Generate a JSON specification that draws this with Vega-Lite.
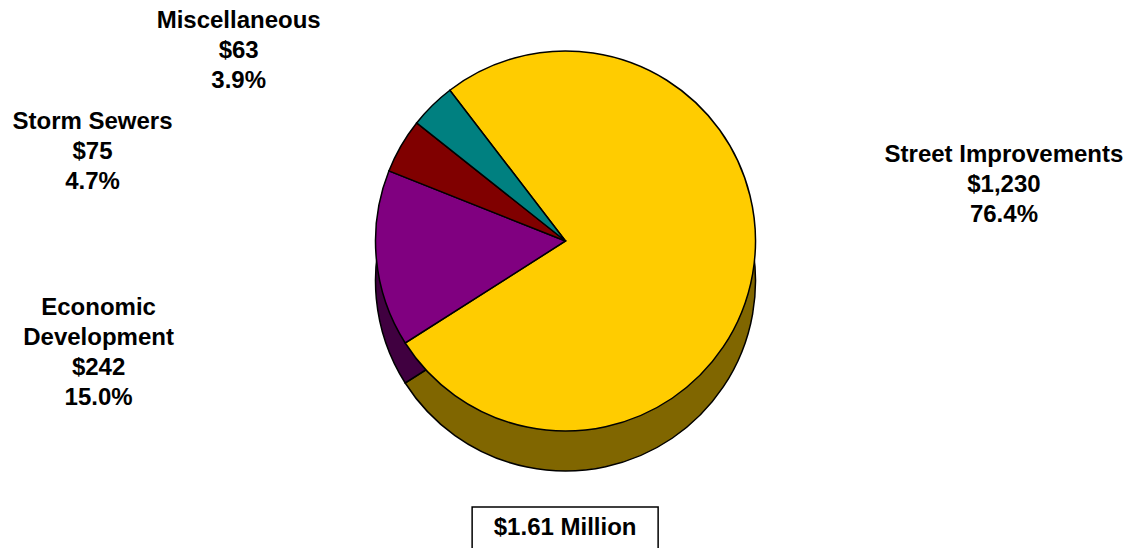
{
  "$schema": "https://vega.github.io/schema/vega-lite/v6.json",
  "padding": {"left": 5, "top": 5, "right": 5, "bottom": 0},
  "config": {"view": {"stroke": null}, "font": "Liberation Sans"},
  "datasets": {
    "slices": [
      {"category": "Street Improvements", "value": 1230, "order": 1, "label": ["Street Improvements", "$1,230", "76.4%"]},
      {"category": "Economic Development", "value": 242, "order": 2, "label": ["Economic", "Development", "$242", "15.0%"]},
      {"category": "Storm Sewers", "value": 75, "order": 3, "label": ["Storm Sewers", "$75", "4.7%"]},
      {"category": "Miscellaneous", "value": 63, "order": 4, "label": ["Miscellaneous", "$63", "3.9%"]}
    ],
    "total": [{"label": "$1.61 Million"}]
  },
  "spacing": 29,
  "center": true,
  "vconcat": [
    {
      "width": 1121,
      "height": 472,
      "data": {"name": "slices"},
      "encoding": {
        "theta": {"field": "value", "type": "quantitative", "stack": true, "scale": {"range": [-0.6545, 5.6287]}},
        "order": {"field": "order", "type": "quantitative"}
      },
      "layer": [
        {
          "mark": {"type": "arc", "radius": 190, "yOffset": 40, "stroke": "black", "strokeWidth": 1.5},
          "encoding": {
            "color": {"field": "category", "type": "nominal", "legend": null,
              "scale": {"domain": ["Street Improvements", "Economic Development", "Storm Sewers", "Miscellaneous"],
                        "range": ["#806600", "#400040", "#400000", "#004040"]}}
          }
        },
        {
          "mark": {"type": "arc", "radius": 190, "stroke": "black", "strokeWidth": 1.5},
          "encoding": {
            "fill": {"field": "category", "type": "nominal", "legend": null,
              "scale": {"domain": ["Street Improvements", "Economic Development", "Storm Sewers", "Miscellaneous"],
                        "range": ["#FFCC00", "#800080", "#800000", "#008080"]}}
          }
        },
        {
          "mark": {"type": "text", "clip": true, "radius": 430, "dx": 15, "dy": -161, "fontSize": 24, "fontWeight": "bold", "lineHeight": 30, "align": "center", "baseline": "middle", "color": "black"},
          "encoding": {"text": {"condition": {"test": "datum.category === 'Street Improvements'", "field": "label"}, "value": ""}}
        },
        {
          "mark": {"type": "text", "clip": true, "radius": 467, "dx": -2, "dy": 23, "fontSize": 24, "fontWeight": "bold", "lineHeight": 30, "align": "center", "baseline": "middle", "color": "black"},
          "encoding": {"text": {"condition": {"test": "datum.category === 'Economic Development'", "field": "label"}, "value": ""}}
        },
        {
          "mark": {"type": "text", "clip": true, "radius": 447, "dx": -86, "dy": 105, "fontSize": 24, "fontWeight": "bold", "lineHeight": 30, "align": "center", "baseline": "middle", "color": "black"},
          "encoding": {"text": {"condition": {"test": "datum.category === 'Storm Sewers'", "field": "label"}, "value": ""}}
        },
        {
          "mark": {"type": "text", "clip": true, "radius": 359, "dx": -75, "dy": 36, "fontSize": 24, "fontWeight": "bold", "lineHeight": 30, "align": "center", "baseline": "middle", "color": "black"},
          "encoding": {"text": {"condition": {"test": "datum.category === 'Miscellaneous'", "field": "label"}, "value": ""}}
        }
      ],
      "resolve": {"scale": {"color": "independent", "fill": "independent"}}
    },
    {
      "width": 186,
      "height": 42,
      "data": {"name": "total"},
      "view": {"stroke": "black", "strokeWidth": 1.5},
      "mark": {"type": "text", "fontSize": 24, "fontWeight": "bold", "color": "black"},
      "encoding": {"text": {"field": "label", "type": "nominal"}}
    }
  ]
}
